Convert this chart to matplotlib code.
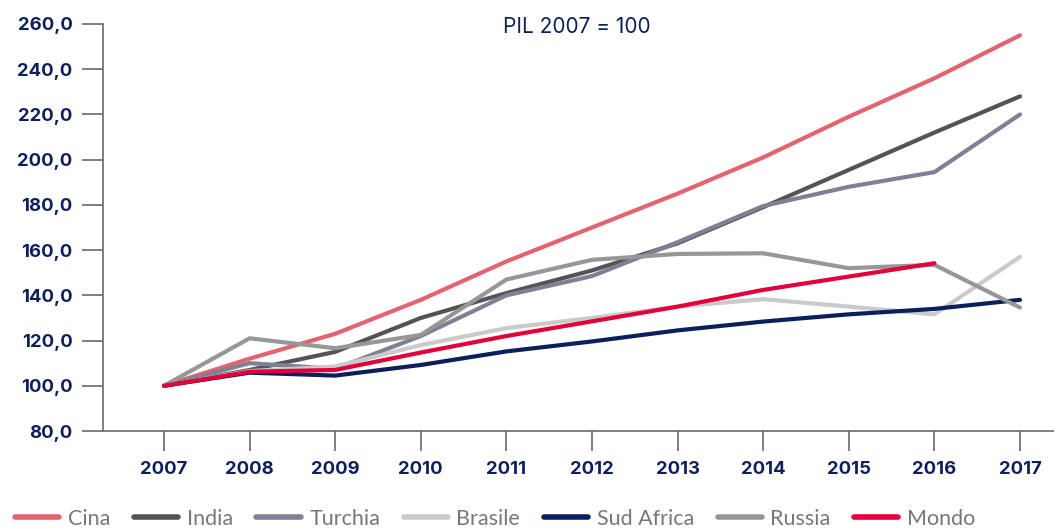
import matplotlib
matplotlib.use('Agg')
import matplotlib.pyplot as plt
from matplotlib.ticker import FuncFormatter

anni = [2007, 2008, 2009, 2010, 2011, 2012, 2013, 2014, 2015, 2016, 2017]

cina = [100, 112, 123, 138, 155, 170, 185, 201, 219, 236, 255]
india = [100, 107, 115, 130, 141, 151, 163, 179, 195.5, 212, 228]
turchia = [100, 110, 107.5, 122, 140, 148.5, 163.5, 179.5, 188, 194.5, 220]
brasile = [100, 106.5, 108.5, 118, 125.5, 130, 135, 138.3, 135, 131.6, 157]
sud_africa = [100, 105.8, 104.5, 109.2, 115.2, 119.6, 124.5, 128.4, 131.6, 134, 138]
russia = [100, 121, 116.6, 122.5, 147, 155.7, 158.3, 158.6, 152, 153.5, 134.6]
mondo = [100, 106.2, 107, 114.7, 122, 128.5, 135, 142.4, 148.3, 154.2]

serie = [
    ('Cina', cina, '#e5636f'),
    ('India', india, '#545454'),
    ('Turchia', turchia, '#7d8096'),
    ('Brasile', brasile, '#cacaca'),
    ('Sud Africa', sud_africa, '#0b1f5c'),
    ('Russia', russia, '#979797'),
    ('Mondo', mondo, '#e4003a'),
]

navy = '#0d1f5c'
grigio = '#6a6a6a'

fig = plt.figure(figsize=(10.54, 5.30), dpi=100)
ax = fig.add_axes([103 / 1054, 99 / 530, 1 - 103 / 1054, (431 - 24) / 530])

for nome, valori, colore in serie:
    ax.plot(anni[:len(valori)], valori, color=colore, lw=3, label=nome,
            solid_capstyle='round', solid_joinstyle='miter')

ax.set_ylim(80, 260)
ax.set_xlim(2007 - 61 / 85.6, 2017 + 34 / 85.6)
ax.set_yticks(range(80, 261, 20))
ax.set_xticks(anni)
ax.yaxis.set_major_formatter(FuncFormatter(lambda v, p: f'{v:.1f}'.replace('.', ',')))

for s in ['top', 'right']:
    ax.spines[s].set_visible(False)
for s in ['left', 'bottom']:
    ax.spines[s].set_color(grigio)
    ax.spines[s].set_linewidth(1.2)

ax.tick_params(axis='y', length=15, width=1.2, color=grigio, pad=7,
               labelsize=13.3, labelcolor=navy)
ax.tick_params(axis='x', length=14.5, width=1.2, color=grigio, pad=7,
               labelsize=13.3, labelcolor=navy)
for lab in ax.get_xticklabels() + ax.get_yticklabels():
    lab.set_fontfamily('Inter')
    lab.set_fontweight('bold')

fig.text(577 / 1054, 1 - 27 / 530, 'PIL 2007 = 100', ha='center', va='center',
         fontsize=15, color=navy, family='Inter')

leg = fig.legend(loc='center left', bbox_to_anchor=(0, 1 - 519 / 530),
                 ncol=7, frameon=False, handlelength=2.05, handletextpad=0.4,
                 columnspacing=1.1, borderpad=0.2,
                 prop={'family': 'Lato', 'size': 15.5})
for t in leg.get_texts():
    t.set_color('#777777')
for l in leg.get_lines():
    l.set_linewidth(4)

fig.savefig('out.png', dpi=100)
